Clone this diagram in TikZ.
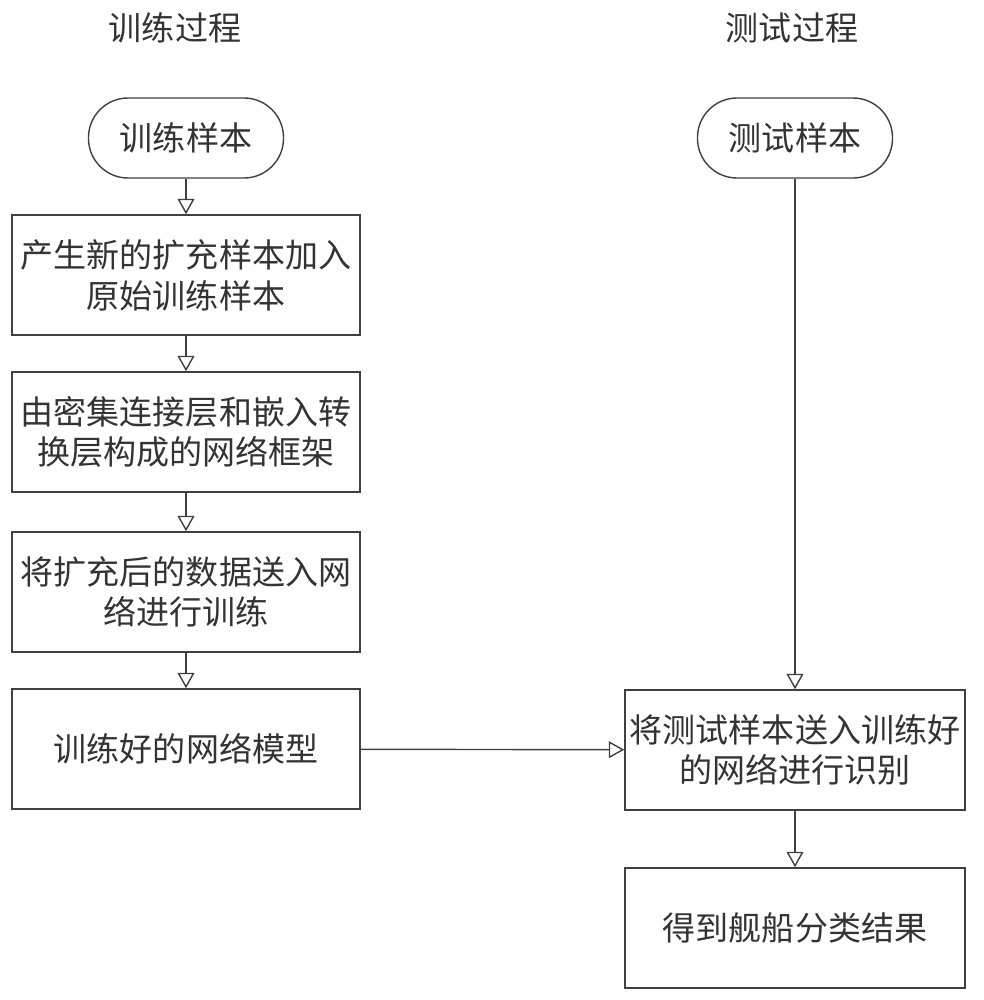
\documentclass[tikz,border=0pt]{standalone}
\usepackage{fontspec}
\newfontfamily\cjk{Noto Sans CJK SC}
\usetikzlibrary{arrows.meta}

\begin{document}
\begin{tikzpicture}[x=0.025cm, y=-0.025cm, every node/.style={draw=black!75, line width=1pt, align=center, inner sep=0pt, font=\cjk\fontsize{23.5}{29}\selectfont, text=black!80}]
	
	\tikzset{edge/.style = {-{Triangle[open,length=11pt,width=12pt]}, draw=black!75, line width=1pt}}
	\tikzset{term/.style = {rounded corners=0.99cm, minimum width=4.875cm, minimum height=2cm}}
	\tikzset{box/.style = {minimum width=8.7cm, minimum height=3cm}}
	\tikzset{rbox/.style = {minimum width=8.5cm, minimum height=3cm}}
	
	\useasboundingbox (0,0) rectangle (984,1000);
	
	\node[draw=none] (t1) at (175,28) {训练过程};
	\node[draw=none] (t2) at (792,28) {测试过程};
	
	\node[term] (1)  at (186,138)   {训练样本};
	\node[box]  (2)  at (186,275)   {产生新的扩充样本加入\\原始训练样本};
	\node[box]  (3)  at (186,432)   {由密集连接层和嵌入转\\换层构成的网络框架};
	\node[box]  (4)  at (186,592)   {将扩充后的数据送入网\\络进行训练};
	\node[box]  (5)  at (186,749)   {训练好的网络模型};
	
	\node[term] (6)  at (795,138)   {测试样本};
	\node[rbox] (7)  at (795,750)   {将测试样本送入训练好\\的网络进行识别};
	\node[rbox] (8)  at (795,928)   {得到舰船分类结果};
	
	\foreach \source/\dest in {1/2,2/3,3/4,4/5,5/7,6/7,7/8}
	\draw[edge] (\source) -- (\dest);
	
\end{tikzpicture}
\end{document}
